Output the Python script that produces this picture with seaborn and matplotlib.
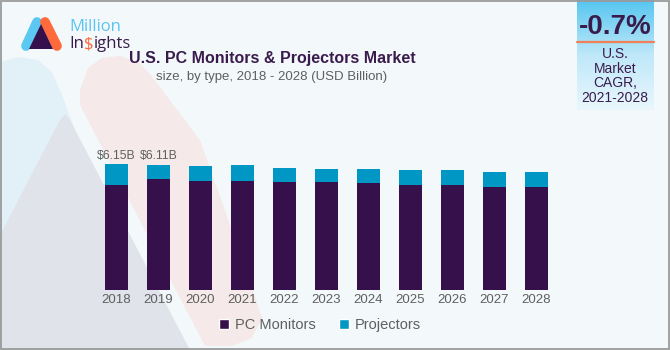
import numpy as np
import pandas as pd
import seaborn as sns
import matplotlib.pyplot as plt
from matplotlib.patches import Polygon, Rectangle, Patch
from matplotlib.lines import Line2D
from matplotlib.colors import LinearSegmentedColormap

# data (USD billion)
years = ["2018", "2019", "2020", "2021", "2022", "2023", "2024", "2025", "2026", "2027", "2028"]
pc_monitors = [5.12, 5.42, 5.33, 5.33, 5.26, 5.27, 5.21, 5.12, 5.12, 5.03, 5.03]
projectors = [1.03, 0.69, 0.74, 0.75, 0.71, 0.64, 0.70, 0.72, 0.72, 0.72, 0.72]
labelled_years = ["2018", "2019"]

col_mon = "#35104a"
col_proj = "#0097c4"
dark = "#3a1c4c"
grey_txt = "#5f5f5f"

sns.set_style("white")
plt.rcParams["font.family"] = ["Liberation Sans Narrow", "Liberation Sans", "DejaVu Sans"]

df = pd.DataFrame({"year": years, "monitors": pc_monitors, "projectors": projectors})
df["total"] = df["monitors"] + df["projectors"]

W, H = 670, 350
fig = plt.figure(figsize=(6.7, 3.5), dpi=100)
fig.patch.set_facecolor("#f3f8fb")

def fx(x):
    return x / W

def fy(y):
    return 1 - y / H

def poly(pts, color, z=-5):
    fig.patches.append(Polygon([(fx(x), fy(y)) for x, y in pts], closed=True,
                               transform=fig.transFigure, facecolor=color,
                               edgecolor="none", zorder=z))

# faint background shapes
poly([(0, 62), (18, 57), (38, 60), (52, 72), (62, 95), (75, 130), (0, 300)], "#e2f0f8")
poly([(80, 90), (88, 68), (102, 58), (120, 56), (138, 62), (150, 74), (200, 140),
      (253, 290), (262, 318), (252, 338), (232, 346), (205, 346), (80, 105)], "#f5e9e9")
poly([(60, 120), (65, 114), (70, 120), (190, 350), (-60, 350)], "#e0e3ea")

# main axes
ax = fig.add_axes([95.3 / W, 60 / H, 462 / W, 155.7 / H])
ax.set_facecolor("none")
sns.barplot(data=df, x="year", y="total", color=col_proj, width=0.54,
            saturation=1, linewidth=0, ax=ax)
sns.barplot(data=df, x="year", y="monitors", color=col_mon, width=0.54,
            saturation=1, linewidth=0, ax=ax)
ax.set_xlim(-0.5, 10.5)
ax.set_ylim(0, 7.6)
ax.set_xlabel("")
ax.set_ylabel("")
ax.set_yticks([])
ax.tick_params(axis="x", length=0, pad=3, labelsize=9.5, labelcolor=grey_txt)
sns.despine(ax=ax, left=True, bottom=True)

for i, yr in enumerate(years):
    if yr in labelled_years:
        ax.text(i, df["total"][i] + 0.12, f"\\${df['total'][i]:.2f}B", ha="center",
                va="bottom", fontsize=8.8, color=grey_txt)

handles = [Patch(facecolor=col_mon, label="PC Monitors"),
           Patch(facecolor=col_proj, label="Projectors")]
fig.legend(handles=handles, loc="center", bbox_to_anchor=(fx(320), fy(325)), ncol=2,
           frameon=False, fontsize=10.5, handlelength=0.7, handleheight=0.7,
           handletextpad=0.4, columnspacing=1.6, labelcolor=grey_txt)

# titles
fig.text(fx(272), fy(58), "U.S. PC Monitors & Projectors Market", ha="center",
         va="center", fontsize=11.5, fontweight="bold", color=dark)
fig.text(fx(272), fy(77), "size, by type, 2018 - 2028 (USD Billion)", ha="center",
         va="center", fontsize=9.5, color=grey_txt)

# logo
fig.lines.append(Line2D([fx(26), fx(37)], [fy(46), fy(22)], transform=fig.transFigure,
                        color="#5bc8f2", lw=7, solid_capstyle="round"))
fig.lines.append(Line2D([fx(45), fx(57)], [fy(22), fy(46)], transform=fig.transFigure,
                        color="#ff6a3d", lw=7, solid_capstyle="round"))
poly([(29, 49), (41, 24), (53, 49)], "#35104a", z=3)
fig.text(fx(69), fy(27), "Million", ha="left", va="center", fontsize=12,
         color="#5bc4f1", family=["Open Sans", "DejaVu Sans"])
fig.canvas.draw()
rend = fig.canvas.get_renderer()
x0 = fx(69)
for part, c in [("In", dark), ("\\$", "#ff6a3d"), ("ights", dark)]:
    t = fig.text(x0, fy(44), part, ha="left", va="center", fontsize=12, color=c,
                 family=["Open Sans", "DejaVu Sans"])
    bb = t.get_window_extent(rend)
    x0 += bb.width / W

# CAGR box with gradient
bx = fig.add_axes([577 / W, 1 - 110 / H, 77 / W, 110 / H])
grad = np.linspace(0, 1, 200).reshape(-1, 1)
cmap = LinearSegmentedColormap.from_list("g", ["#56c6f0", "#bfe8f9", "#e9f7fd"])
bx.imshow(grad, aspect="auto", cmap=cmap, extent=[0, 1, 0, 1], origin="upper")
bx.axis("off")
fig.lines.append(Line2D([fx(577), fx(654)], [fy(42), fy(42)], transform=fig.transFigure,
                        color="#f07f5a", lw=1.6))
fig.text(fx(615), fy(27), "-0.7%", ha="center", va="center", fontsize=20,
         fontweight="bold", color=dark)
fig.text(fx(615), fy(76), "U.S.\nMarket\nCAGR,\n2021-2028", ha="center", va="center",
         fontsize=10, color=dark, linespacing=1.05)

# outer frame
fig.patches.append(Rectangle((0.001, 0.002), 0.997, 0.995, transform=fig.transFigure,
                             facecolor="none", edgecolor="#9a9a9a", lw=1.3, zorder=10))

fig.savefig("out.png", dpi=100, facecolor=fig.get_facecolor())
